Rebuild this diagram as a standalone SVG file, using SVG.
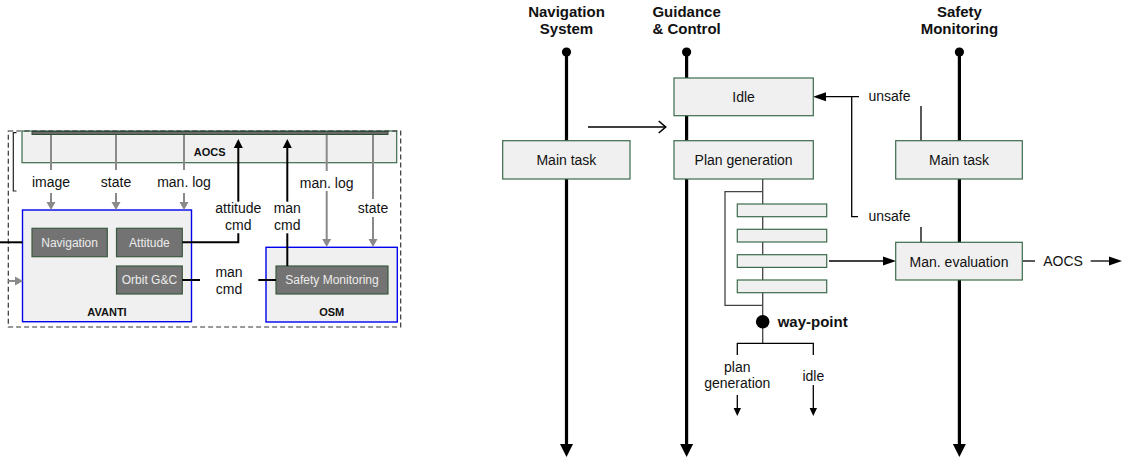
<svg xmlns="http://www.w3.org/2000/svg" width="1123" height="462" viewBox="0 0 1123 462">
  <style>
    text { font-family: "Liberation Sans", Arial, sans-serif; fill: #111; }
    .lbl { font-size: 14px; text-anchor: middle; }
    .hdr { font-size: 15px; font-weight: bold; text-anchor: middle; }
    .bold11 { font-size: 11px; font-weight: bold; text-anchor: middle; }
    .box { fill: #f0f0f0; stroke: #3b6b4b; stroke-width: 1.2; }
    .dbox { fill: #737373; stroke: #3b5b40; stroke-width: 1.2; }
    .dtxt { font-size: 12px; fill: #ececec; text-anchor: middle; }
    .blue { fill: #f0f0f0; stroke: #0000ee; stroke-width: 1.4; }
    .gray { stroke: #8a8a8a; stroke-width: 2; fill: none; }
    .blk2 { stroke: #000; stroke-width: 2; fill: none; }
    .thin { stroke: #000; stroke-width: 1.3; fill: none; }
    .life { stroke: #000; stroke-width: 3.2; fill: none; }
    .stack { stroke: #444; stroke-width: 1.3; fill: none; }
  </style>
  <defs>
    <marker id="m-life" markerUnits="userSpaceOnUse" markerWidth="14" markerHeight="14" refX="0" refY="7" orient="auto">
      <path d="M0,0.5 L13,7 L0,13.5 z" fill="#000"/>
    </marker>
    <marker id="m-blk" markerUnits="userSpaceOnUse" markerWidth="14" markerHeight="10" refX="0" refY="5" orient="auto">
      <path d="M0,0.5 L13,5 L0,9.5 z" fill="#000"/>
    </marker>
    <marker id="m-blk-s" markerUnits="userSpaceOnUse" markerWidth="10" markerHeight="10" refX="0" refY="5" orient="auto">
      <path d="M0,0.5 L9,5 L0,9.5 z" fill="#000"/>
    </marker>
    <marker id="m-small" markerUnits="userSpaceOnUse" markerWidth="9" markerHeight="8" refX="0" refY="4" orient="auto">
      <path d="M0,0.3 L8,4 L0,7.7 z" fill="#000"/>
    </marker>
    <marker id="m-gray" markerUnits="userSpaceOnUse" markerWidth="9" markerHeight="10" refX="0" refY="5" orient="auto">
      <path d="M0,0.5 L8,5 L0,9.5 z" fill="#8a8a8a"/>
    </marker>
    <marker id="m-open" markerUnits="userSpaceOnUse" markerWidth="10" markerHeight="14" refX="8" refY="7" orient="auto">
      <path d="M1,1 L8,7 L1,13" fill="none" stroke="#000" stroke-width="1.6"/>
    </marker>
  </defs>

  <!-- ===== Left: system architecture ===== -->
  <g id="aocs">
    <rect class="box" x="22" y="131" width="374.7" height="31.7"/>
    <rect x="32" y="131.5" width="356" height="3" fill="#6a6a6a" stroke="#2e4e36" stroke-width="1"/>
    <text class="bold11" x="209.7" y="155.5">AOCS</text>
  </g>

  <g id="outer-frame">
    <rect x="8.3" y="131" width="392.4" height="196" fill="none" stroke="#333" stroke-width="1.2" stroke-dasharray="5,3"/>
    <path d="M16.5,132.7 H13.3 V191 H16.5" fill="none" stroke="#222" stroke-width="1.2"/>
  </g>

  <g id="avanti">
    <rect class="blue" x="22.5" y="210" width="169" height="111.7"/>
    <text class="bold11" x="107" y="315.5">AVANTI</text>
  </g>
  <g id="navigation">
    <rect class="dbox" x="32" y="228.3" width="75.3" height="28.4"/>
    <text class="dtxt" x="69.6" y="246.8">Navigation</text>
  </g>
  <g id="attitude">
    <rect class="dbox" x="116.5" y="228.3" width="65.8" height="28.4"/>
    <text class="dtxt" x="149.4" y="246.8">Attitude</text>
  </g>
  <g id="orbit-gc">
    <rect class="dbox" x="116.5" y="266" width="65.8" height="28"/>
    <text class="dtxt" x="149.4" y="284.3">Orbit G&amp;C</text>
  </g>

  <g id="osm">
    <rect class="blue" x="266" y="247.3" width="131.3" height="74.7"/>
    <text class="bold11" x="331.7" y="315.5">OSM</text>
  </g>
  <g id="safety-monitoring-block">
    <rect class="dbox" x="276" y="266" width="112" height="28"/>
    <text class="dtxt" x="332" y="284.3">Safety Monitoring</text>
  </g>

  <g id="left-connectors">
    <!-- AOCS telemetry down to AVANTI -->
    <line class="gray" x1="51" y1="135" x2="51" y2="170"/>
    <line class="gray" x1="51" y1="193" x2="51" y2="202" marker-end="url(#m-gray)"/>
    <line class="gray" x1="116" y1="135" x2="116" y2="170"/>
    <line class="gray" x1="116" y1="193" x2="116" y2="202" marker-end="url(#m-gray)"/>
    <line class="gray" x1="184" y1="135" x2="184" y2="170"/>
    <line class="gray" x1="184" y1="193" x2="184" y2="202" marker-end="url(#m-gray)"/>
    <!-- AOCS telemetry down to OSM -->
    <line class="gray" x1="326.7" y1="135" x2="326.7" y2="171"/>
    <line class="gray" x1="326.7" y1="191" x2="326.7" y2="239" marker-end="url(#m-gray)"/>
    <line class="gray" x1="373" y1="135" x2="373" y2="199"/>
    <line class="gray" x1="373" y1="217" x2="373" y2="239" marker-end="url(#m-gray)"/>
    <!-- external inputs into AVANTI -->
    <line class="blk2" x1="0" y1="242.3" x2="22.5" y2="242.3"/>
    <line class="gray" x1="8.3" y1="281" x2="15" y2="281" marker-end="url(#m-gray)"/>
    <!-- attitude cmd -->
    <path class="blk2" d="M182.3,242.3 H238.3 V233.3"/>
    <line class="blk2" x1="238.3" y1="201.7" x2="238.3" y2="148" marker-end="url(#m-blk-s)"/>
    <!-- man cmd to AOCS -->
    <line class="blk2" x1="287.3" y1="266" x2="287.3" y2="233.3"/>
    <line class="blk2" x1="287.3" y1="201.7" x2="287.3" y2="148" marker-end="url(#m-blk-s)"/>
    <!-- man cmd between Orbit G&C and Safety Monitoring -->
    <line class="blk2" x1="182.3" y1="280" x2="200" y2="280"/>
    <line class="blk2" x1="258.3" y1="280" x2="276" y2="280"/>
  </g>

  <g id="left-labels">
    <text class="lbl" x="51" y="187">image</text>
    <text class="lbl" x="116" y="187">state</text>
    <text class="lbl" x="184" y="187">man. log</text>
    <text class="lbl" x="326.7" y="187.5">man. log</text>
    <text class="lbl" x="373" y="213">state</text>
    <text class="lbl" x="238.3" y="213">attitude</text>
    <text class="lbl" x="238.3" y="230">cmd</text>
    <text class="lbl" x="287.3" y="213">man</text>
    <text class="lbl" x="287.3" y="230">cmd</text>
    <text class="lbl" x="229" y="277">man</text>
    <text class="lbl" x="229" y="293.5">cmd</text>
  </g>

  <!-- ===== Right: on-board process timeline ===== -->
  <g id="lifelines">
    <line class="life" x1="566.5" y1="52" x2="566.5" y2="444" marker-end="url(#m-life)"/>
    <line class="life" x1="686.6" y1="52" x2="686.6" y2="444" marker-end="url(#m-life)"/>
    <line class="life" x1="959.4" y1="52" x2="959.4" y2="444" marker-end="url(#m-life)"/>
    <circle cx="566.5" cy="52" r="4.6" fill="#000"/>
    <circle cx="686.6" cy="52" r="4.6" fill="#000"/>
    <circle cx="959.4" cy="52" r="4.6" fill="#000"/>
  </g>

  <g id="headers">
    <text class="hdr" x="566.5" y="17">Navigation</text>
    <text class="hdr" x="566.5" y="34">System</text>
    <text class="hdr" x="686.6" y="17">Guidance</text>
    <text class="hdr" x="686.6" y="34">&amp; Control</text>
    <text class="hdr" x="959.4" y="17">Safety</text>
    <text class="hdr" x="959.4" y="34">Monitoring</text>
  </g>

  <g id="connectors">
    <!-- navigation to guidance & control -->
    <line class="thin" x1="588" y1="127" x2="665.7" y2="127" marker-end="url(#m-open)" stroke-width="1.6"/>
    <!-- plan stack -->
    <line class="stack" x1="762.7" y1="179" x2="762.7" y2="343.3"/>
    <path class="stack" d="M762.7,191.7 H725 V305.3 H762.7"/>
    <!-- unsafe to Idle -->
    <line class="thin" x1="859" y1="96.7" x2="826" y2="96.7" marker-end="url(#m-blk)"/>
    <line class="thin" x1="921" y1="106" x2="921" y2="141"/>
    <path class="thin" d="M851.7,96.7 V216.7 H858"/>
    <line class="thin" x1="921" y1="227" x2="921" y2="242.5"/>
    <!-- plan to evaluation -->
    <line class="thin" x1="829" y1="261" x2="883" y2="261" marker-end="url(#m-blk)"/>
    <!-- evaluation to AOCS -->
    <line class="thin" x1="1022" y1="261" x2="1035" y2="261"/>
    <line class="thin" x1="1090.7" y1="261" x2="1109" y2="261" marker-end="url(#m-blk)"/>
    <!-- way-point branch -->
    <path class="thin" d="M737.3,355 V343.3 H813.3 V355"/>
    <line class="thin" x1="737.3" y1="395" x2="737.3" y2="408" marker-end="url(#m-small)"/>
    <line class="thin" x1="813.3" y1="385" x2="813.3" y2="408" marker-end="url(#m-small)"/>
  </g>

  <g id="idle">
    <rect class="box" x="674" y="78" width="139.3" height="37.7"/>
    <text class="lbl" x="743.6" y="102" font-size="15">Idle</text>
  </g>
  <g id="nav-main-task">
    <rect class="box" x="502.7" y="140.7" width="127.3" height="38.3"/>
    <text class="lbl" x="566.4" y="165" font-size="15">Main task</text>
  </g>
  <g id="plan-generation">
    <rect class="box" x="674" y="140.7" width="139.3" height="38.3"/>
    <text class="lbl" x="743.6" y="165" font-size="15">Plan generation</text>
  </g>
  <g id="sm-main-task">
    <rect class="box" x="895.7" y="140.7" width="126.6" height="38.3"/>
    <text class="lbl" x="959" y="165" font-size="15">Main task</text>
  </g>
  <g id="man-evaluation">
    <rect class="box" x="895.7" y="242.3" width="126.6" height="37.7"/>
    <text class="lbl" x="959" y="266.5" font-size="15">Man. evaluation</text>
  </g>
  <g id="plan-steps">
    <rect class="box" x="737.3" y="204" width="89.4" height="12.7"/>
    <rect class="box" x="737.3" y="229.3" width="89.4" height="12.7"/>
    <rect class="box" x="737.3" y="254.7" width="89.4" height="12.7"/>
    <rect class="box" x="737.3" y="280" width="89.4" height="12.7"/>
  </g>
  <g id="way-point">
    <circle cx="762.7" cy="321.7" r="6.8" fill="#000"/>
    <text x="777.7" y="327" font-size="15" font-weight="bold">way-point</text>
  </g>

  <g id="right-labels">
    <text class="lbl" x="889.5" y="101">unsafe</text>
    <text class="lbl" x="889.5" y="221">unsafe</text>
    <text class="lbl" x="1063" y="266">AOCS</text>
    <text class="lbl" x="737.3" y="371.5">plan</text>
    <text class="lbl" x="737.3" y="388">generation</text>
    <text class="lbl" x="813.3" y="380.5">idle</text>
  </g>
</svg>
